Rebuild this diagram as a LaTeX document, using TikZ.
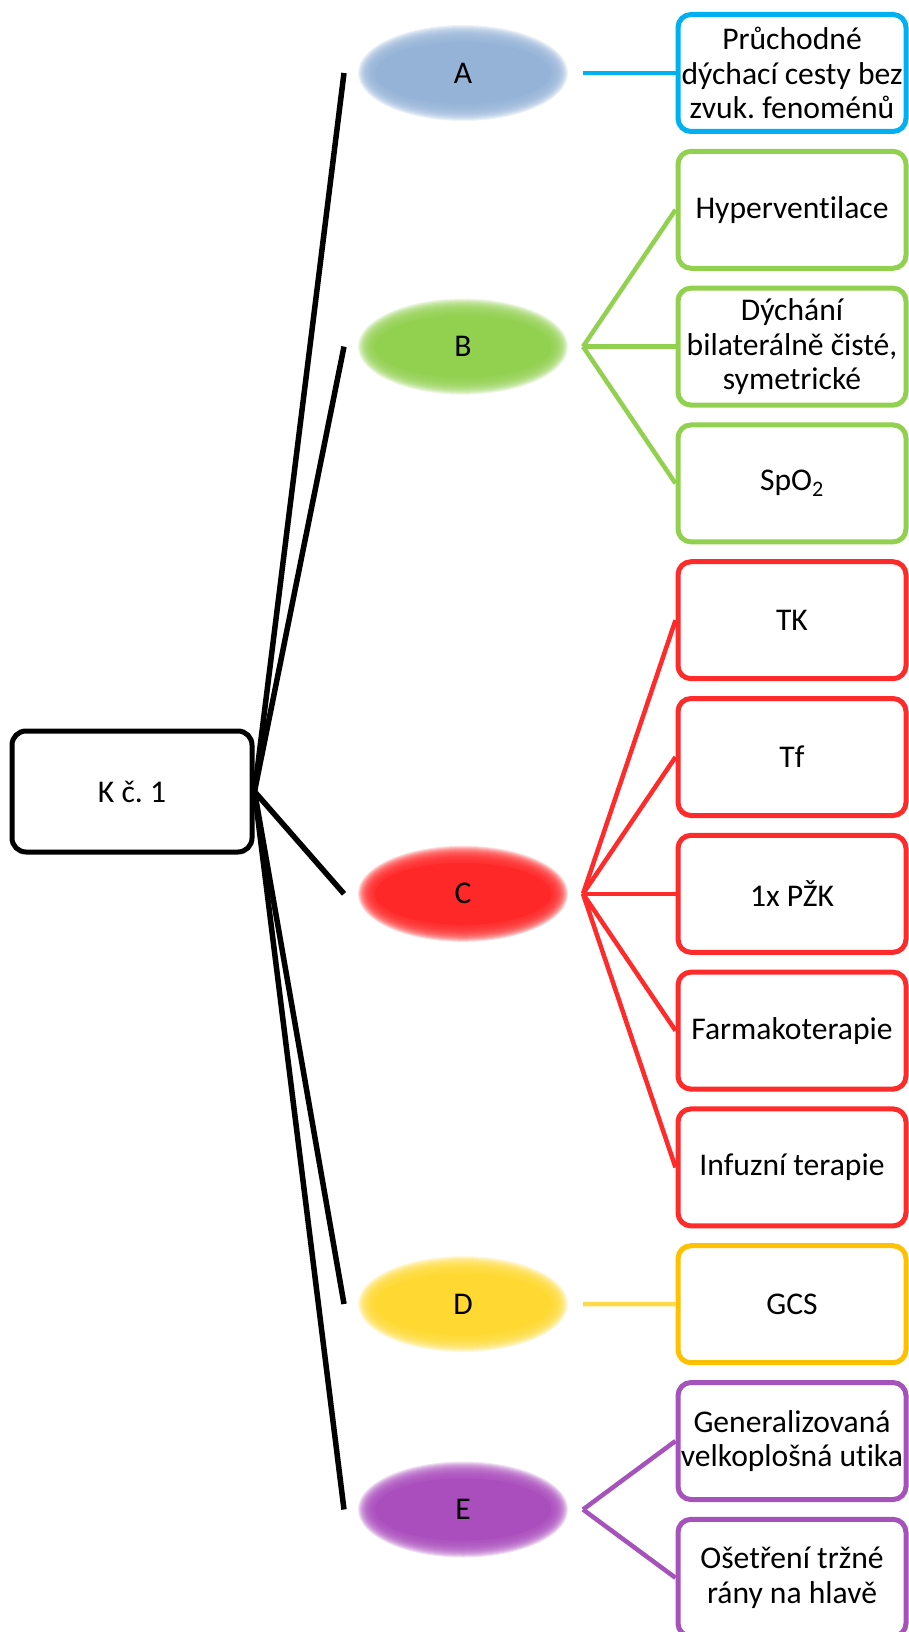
\documentclass[tikz,border=0pt]{standalone}
\usepackage{fontspec}
\setmainfont{Carlito}[Ligatures={NoCommon}]
\usetikzlibrary{shapes.geometric}
\definecolor{aEll}{HTML}{95B3D7}
\definecolor{aBox}{HTML}{00B0F0}
\definecolor{bCol}{HTML}{92D050}
\definecolor{cEll}{HTML}{FF2828}
\definecolor{cBox}{HTML}{FF2B2B}
\definecolor{dEll}{HTML}{FFD932}
\definecolor{dLine}{HTML}{FFD94A}
\definecolor{dBox}{HTML}{FFC000}
\definecolor{eEll}{HTML}{AA4DBD}
\definecolor{eBox}{HTML}{A652BB}
\newcommand\blurell[3]{%
  \foreach \i in {18,17,...,1}{%
    \fill[#1, opacity=0.17] (#2,#3) ellipse [x radius=\i*1pt+87pt, y radius=\i*1pt+30pt];}}
\begin{document}
\frenchspacing
\begin{tikzpicture}[x=1pt,y=-1pt,
  txt/.style={font=\fontsize{31.6}{34.5}\selectfont},
  kbox/.style={txt, draw=black, line width=5pt, rounded corners=14pt,
    minimum width=240pt, minimum height=121pt, inner sep=0pt},
  rbox/.style={txt, draw=#1, line width=5pt, rounded corners=13pt,
    minimum width=228pt, minimum height=117pt, text width=228pt,
    align=flush center, inner sep=0pt},
  ell/.style={txt, ellipse, fill=#1, minimum width=176pt, minimum height=62pt, inner sep=0pt},
  blk/.style={line width=5.5pt, draw=black},
  con/.style={line width=4.5pt, draw=#1}
]
\useasboundingbox (0,0) rectangle (909,1632);
\clip (0,0) rectangle (909,1632);

% central box
\node[kbox] (K) at (132,791.5) {K č. 1};

% ellipses
\blurell{aEll}{463}{73}
\node[ell=aEll] (eA) at (463,73) {A};
\blurell{bCol}{463}{346.6}
\node[ell=bCol] (eB) at (463,346.6) {B};
\blurell{cEll}{463}{893.8}
\node[ell=cEll] (eC) at (463,893.8) {C};
\blurell{dEll}{463}{1304}
\node[ell=dEll] (eD) at (463,1304) {D};
\blurell{eEll}{463}{1509.5}
\node[ell=eEll] (eE) at (463,1509.5) {E};

% connector end points
\foreach \n in {A,B,C,D,E}{
  \coordinate (a\n) at ([xshift=-119pt]e\n.center);
  \coordinate (s\n) at ([xshift=120pt]e\n.center);
}

% right boxes
\node[rbox=aBox] (bA) at (792,73) {Průchodné\\dýchací cesty bez\\zvuk. fenoménů};
\node[rbox=bCol] (bB1) at (792,209.8) {Hyperventilace};
\node[rbox=bCol] (bB2) at (792,346.6) {Dýchání\\bilaterálně čisté,\\symetrické};
\node[rbox=bCol] (bB3) at (792,483.4) {SpO\textsubscript{2}};
\node[rbox=cBox] (bC1) at (792,620.2) {TK};
\node[rbox=cBox] (bC2) at (792,757) {Tf};
\node[rbox=cBox] (bC3) at (792,893.8) {1x PŽK};
\node[rbox=cBox] (bC4) at (792,1030.6) {Farmakoterapie};
\node[rbox=cBox] (bC5) at (792,1167.4) {Infuzní terapie};
\node[rbox=dBox] (bD) at (792,1304.2) {GCS};
\node[rbox=eBox] (bE1) at (792,1441) {Generalizovaná\\velkoplošná utika};
\node[rbox=eBox] (bE2) at (792,1577.8) {Ošetření tržné\\rány na hlavě};

% black lines
\foreach \n in {A,B,C,D,E}{
  \draw[blk] (K.east) -- (a\n);
}

% coloured connectors
\draw[con=aBox] (sA) -- (bA.west);
\foreach \b in {B1,B2,B3}{\draw[con=bCol] (sB) -- (b\b.west);}
\foreach \b in {C1,C2,C3,C4,C5}{\draw[con=cBox] (sC) -- (b\b.west);}
\draw[con=dLine] (sD) -- (bD.west);
\foreach \b in {E1,E2}{\draw[con=eBox] (sE) -- (b\b.west);}
\end{tikzpicture}
\end{document}
